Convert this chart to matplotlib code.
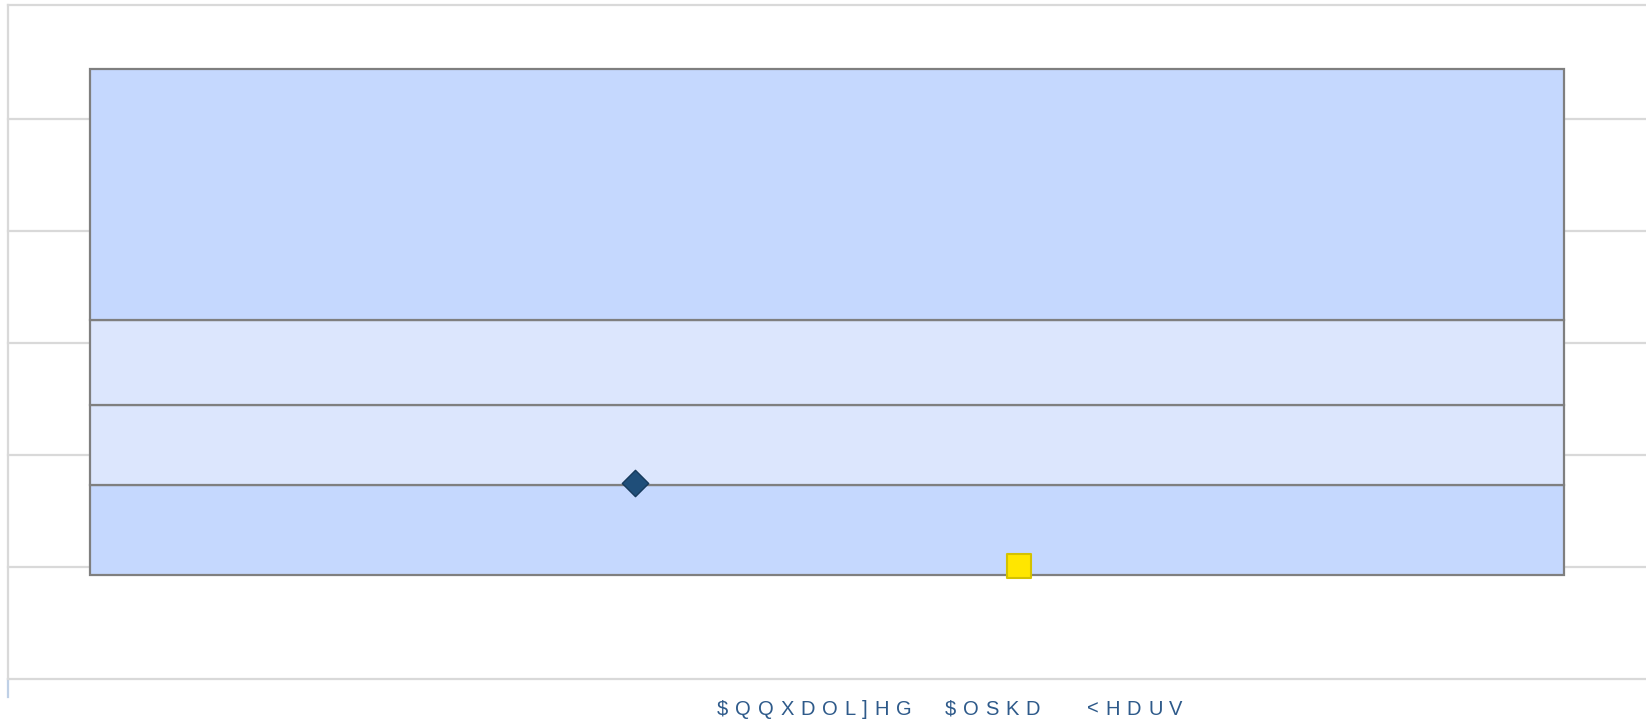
import numpy as np
import matplotlib.pyplot as plt
from matplotlib.font_manager import FontProperties

# quartile bands of the box, bottom to top
band_edges = [0.926, 1.727, 2.448, 3.205, 5.44]
band_colors = ['#C5D8FE', '#DCE6FD', '#DCE6FD', '#C5D8FE']

# markers drawn on top of the box
diamond_x, diamond_y = [0.383], [1.745]
square_x, square_y = [0.617], [1.01]

grid_levels = [0, 1, 2, 3, 4, 5]
x_label = '$QQXDOL]HG  $OSKD   <HDUV'

fig = plt.figure(figsize=(16.46, 7.22), dpi=100)
ax = fig.add_axes([0.00486, 0.0596, 0.99514, 0.9335])

ax.set_xlim(0, 1)
ax.set_ylim(0, 6.013)

for lvl in grid_levels:
    ax.axhline(lvl, color='#D9D9D9', lw=1.6, zorder=0, clip_on=False)

bottoms = band_edges[:-1]
heights = np.diff(band_edges)
ax.bar([0.5] * len(heights), heights, bottom=bottoms, width=0.9,
       color=band_colors, edgecolor='#7F7F7F', linewidth=1.6, zorder=2)

ax.scatter(diamond_x, diamond_y, marker='D', s=180, color='#1F4E79',
           edgecolor='#163A5C', linewidth=1, zorder=4)
ax.scatter(square_x, square_y, marker='s', s=300, color='#FFE600',
           edgecolor='#D4C200', linewidth=1.5, zorder=4, clip_on=False)

for side in ['right', 'bottom']:
    ax.spines[side].set_visible(False)
for side in ['left', 'top']:
    ax.spines[side].set_color('#D9D9D9')
    ax.spines[side].set_linewidth(1.6)
ax.plot([0, 0], [0, -0.16], color='#BFD0E6', lw=1.6, clip_on=False)

ax.set_xticks([])
ax.set_yticks([])

# axis title with wide letter spacing, one glyph at a time
fp = FontProperties(family='Liberation Sans', size=14.5)
renderer = fig.canvas.get_renderer()
W, H = fig.bbox.width, fig.bbox.height
tracking = 6.8
space_adv = 13.3
x = 717.0
for ch in x_label:
    if ch == ' ':
        x += space_adv
        continue
    t = fig.text(x / W, 7 / H, ch, ha='left', va='baseline',
                 color='#2E5A8A', fontproperties=fp, parse_math=False)
    w = t.get_window_extent(renderer).width
    x += w + tracking

fig.savefig('out.png', dpi=100, facecolor='white')
